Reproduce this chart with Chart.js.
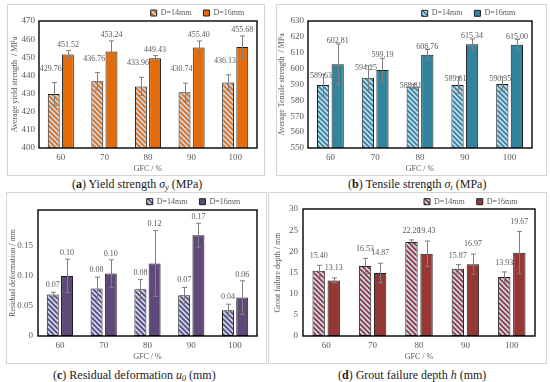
<!DOCTYPE html>
<html><head><meta charset="utf-8">
<script src="https://cdn.jsdelivr.net/npm/chart.js@4.4.1/dist/chart.umd.min.js"></script>
<style>
html,body{margin:0;padding:0;background:#fff;}
body{width:550px;height:382px;position:relative;overflow:hidden;font-family:'Liberation Serif',serif;}
.panel{position:absolute;border:1px solid #d4d4d4;box-sizing:border-box;}
.panel canvas{position:absolute;left:0;top:0;}
.cap{position:absolute;font-size:12px;color:#1a1a1a;white-space:nowrap;line-height:14px;}
.cap sub{font-size:8px;vertical-align:-2px;line-height:0;}
</style></head><body>
<div class="panel" style="left:7px;top:4px;width:258px;height:172px"><canvas id="ca" width="256" height="170"></canvas></div>
<div class="panel" style="left:276px;top:4px;width:271px;height:172px"><canvas id="cb" width="269" height="170"></canvas></div>
<div class="panel" style="left:6px;top:192px;width:261px;height:172px"><canvas id="cc" width="259" height="170"></canvas></div>
<div class="panel" style="left:268px;top:192px;width:279px;height:172px"><canvas id="cd" width="277" height="170"></canvas></div>
<div class="cap" style="left:72px;top:177px">(<b>a</b>) Yield strength <i>σ<sub>y</sub></i> (MPa)</div>
<div class="cap" style="left:348px;top:177px">(<b>b</b>) Tensile strength <i>σ<sub>t</sub></i> (MPa)</div>
<div class="cap" style="left:53px;top:368px">(<b>c</b>) Residual deformation <i>u<sub>0</sub></i> (mm)</div>
<div class="cap" style="left:338px;top:368px">(<b>d</b>) Grout failure depth <i>h</i> (mm)</div>
<script>
// ---- data ----
const categories = ['60', '70', '80', '90', '100'];
const seriesNames = ['D=14mm', 'D=16mm'];

const yieldD14 = [429.76, 436.76, 433.96, 430.74, 436.13];
const yieldD16 = [451.52, 453.24, 449.43, 455.40, 455.68];
const yieldErrD14 = [6.3, 4.8, 5.0, 5.0, 4.2];
const yieldErrD16 = [2.2, 5.8, 1.5, 3.6, 6.1];

const tensileD14 = [589.63, 594.25, 588.81, 589.61, 590.35];
const tensileD16 = [602.81, 599.19, 608.76, 615.34, 615.00];
const tensileErrD14 = [6.9, 7.5, 1.4, 5.2, 4.4];
const tensileErrD16 = [12.7, 7.3, 3.3, 3.3, 3.4];

const residD14 = [0.069, 0.079, 0.078, 0.068, 0.043];
const residD16 = [0.100, 0.104, 0.121, 0.168, 0.064];
const residErrD14 = [0.004, 0.019, 0.016, 0.013, 0.010];
const residErrD16 = [0.028, 0.023, 0.055, 0.020, 0.028];

const groutD14 = [15.40, 16.53, 22.20, 15.87, 13.93];
const groutD16 = [13.13, 14.87, 19.43, 16.97, 19.67];
const groutErrD14 = [1.3, 1.8, 0.5, 1.0, 1.2];
const groutErrD16 = [0.6, 2.3, 3.0, 2.4, 5.0];

// ---- styling ----
const HATCH_BG = '#C6D9F1';
const TEXT = '#595959';
Chart.defaults.font.family = "'Liberation Serif', serif";
Chart.defaults.color = TEXT;

function hatch(color) {
  const w = 5;
  const c = document.createElement('canvas');
  c.width = w; c.height = w;
  const x = c.getContext('2d');
  x.fillStyle = HATCH_BG; x.fillRect(0, 0, w, w);
  x.strokeStyle = color; x.lineWidth = 1.7; x.beginPath();
  for (const k of [-1, 0, 1]) { x.moveTo(-1, k * w - 1); x.lineTo(w + 1, k * w + w + 1); }
  x.stroke();
  return x.createPattern(c, 'repeat');
}

const extras = {
  id: 'extras',
  beforeInit(chart) {
    const lg = chart.legend;
    const orig = lg.fit;
    lg.fit = function () { orig.call(this); this.height = chart.options.plugins.extras.plotTop; };
  },
  afterLayout(chart) {
    const o = chart.options.plugins.extras, lg = chart.legend;
    const pad = 12, ih = 8;
    lg.left = o.legendX - pad; lg.right = chart.width + 200;
    lg.top = o.legendY - pad - ih / 2;
  },
  afterDatasetsDraw(chart) {
    const ctx = chart.ctx, ys = chart.scales.y, a = chart.chartArea;
    ctx.save();
    ctx.strokeStyle = '#000'; ctx.lineWidth = 1.4;
    ctx.strokeRect(a.left, a.top, a.right - a.left, a.bottom - a.top);
    chart.data.datasets.forEach((ds, di) => {
      const meta = chart.getDatasetMeta(di);
      meta.data.forEach((bar, i) => {
        const v = ds.data[i], e = ds.errors[i];
        const yt = ys.getPixelForValue(v + e), yb = ys.getPixelForValue(v - e);
        const x = Math.round(bar.x) + 0.5;
        ctx.strokeStyle = '#7f7f7f'; ctx.lineWidth = 1;
        ctx.beginPath();
        ctx.moveTo(x, yt); ctx.lineTo(x, yb);
        ctx.moveTo(x - 2.5, yt); ctx.lineTo(x + 2.5, yt);
        ctx.moveTo(x - 2.5, yb); ctx.lineTo(x + 2.5, yb);
        ctx.stroke();
        ctx.fillStyle = TEXT; ctx.font = "8px 'Liberation Serif'";
        ctx.textAlign = 'center'; ctx.textBaseline = 'middle';
        ctx.fillText(v.toFixed(2), bar.x + ds.labelDx, yt - ds.labelDy);
      });
    });
    ctx.restore();
  }
};

function makeChart(id, p) {
  const canvas = document.getElementById(id);
  const W = canvas.width, H = canvas.height;
  const mk = (label, data, errors, bg, dx, dy) => ({
    label, data, errors, labelDx: dx, labelDy: dy,
    backgroundColor: bg, borderColor: '#1f1f1f', borderWidth: 1, borderSkipped: false,
    categoryPercentage: p.catPct, barPercentage: p.barPct
  });
  new Chart(canvas, {
    type: 'bar',
    data: {
      labels: categories,
      datasets: [
        mk(seriesNames[0], p.d14, p.e14, hatch(p.color), p.dx14, p.dy14),
        mk(seriesNames[1], p.d16, p.e16, p.color, 0, p.dy16)
      ]
    },
    options: {
      responsive: false, animation: false, devicePixelRatio: 1,
      layout: { padding: { left: 0, top: 0, bottom: 0, right: W - p.plotRight } },
      plugins: {
        tooltip: { enabled: false },
        legend: {
          position: 'top', align: 'start',
          labels: { boxWidth: 6, boxHeight: 6, padding: 12, font: { size: 8 }, color: TEXT }
        },
        extras: { plotTop: p.plotTop, legendX: p.legendX, legendY: p.legendY }
      },
      scales: {
        x: {
          grid: { display: false, drawTicks: false }, border: { display: false },
          ticks: { padding: 4, font: { size: 9 } },
          title: { display: true, text: 'GFC / %', font: { size: 8 }, padding: { top: 0, bottom: 1.2 } },
          afterFit(s) { s.height = H - 143; }
        },
        y: {
          min: p.min, max: p.max,
          grid: { display: false, drawTicks: false }, border: { display: false },
          ticks: { stepSize: p.step, padding: p.tickPad, font: { size: 9 } },
          title: { display: true, text: p.yTitle, font: { size: 8 }, padding: { top: p.titlePad, bottom: 0 } },
          afterBuildTicks(s) { s.ticks = s.ticks.filter(t => t.value <= p.lastTick + 1e-9); },
          afterFit(s) { s.width = p.plotLeft; }
        }
      }
    },
    plugins: [extras]
  });
}

makeChart('ca', {
  d14: yieldD14, d16: yieldD16, e14: yieldErrD14, e16: yieldErrD16,
  color: '#E46C0A', min: 400, max: 470, step: 10, lastTick: 470,
  yTitle: 'Average yield strength  / MPa', titlePad: 2.2, tickPad: 4,
  plotLeft: 31, plotRight: 249, plotTop: 16, legendX: 142.7, legendY: 8,
  catPct: 0.65, barPct: 0.84, dx14: -3, dy14: 14, dy16: 6
});
makeChart('cb', {
  d14: tensileD14, d16: tensileD16, e14: tensileErrD14, e16: tensileErrD16,
  color: '#31849B', min: 550, max: 630, step: 10, lastTick: 630,
  yTitle: 'Average Tensile strength  / MPa', titlePad: 0.2, tickPad: 4,
  plotLeft: 31, plotRight: 255, plotTop: 16, legendX: 144.7, legendY: 8.3,
  catPct: 0.65, barPct: 0.84, dx14: -2, dy14: -2, dy16: 3
});
makeChart('cc', {
  d14: residD14, d16: residD16, e14: residErrD14, e16: residErrD16,
  color: '#5F497A', min: 0, max: 0.21, step: 0.05, lastTick: 0.2,
  yTitle: 'Residual deformation / mm', titlePad: 1.2, tickPad: 5,
  plotLeft: 31, plotRight: 250, plotTop: 17, legendX: 139.7, legendY: 8.7,
  catPct: 0.65, barPct: 0.84, dx14: 0, dy14: 7, dy16: 6
});
makeChart('cd', {
  d14: groutD14, d16: groutD16, e14: groutErrD14, e16: groutErrD16,
  color: '#953735', min: 0, max: 30, step: 5, lastTick: 30,
  yTitle: 'Grout failure depth / mm', titlePad: 4.2, tickPad: 5,
  plotLeft: 34, plotRight: 266, plotTop: 16, legendX: 155, legendY: 8.7,
  catPct: 0.65, barPct: 0.82, dx14: 0, dy14: 9, dy16: 10
});
</script>
</body></html>
